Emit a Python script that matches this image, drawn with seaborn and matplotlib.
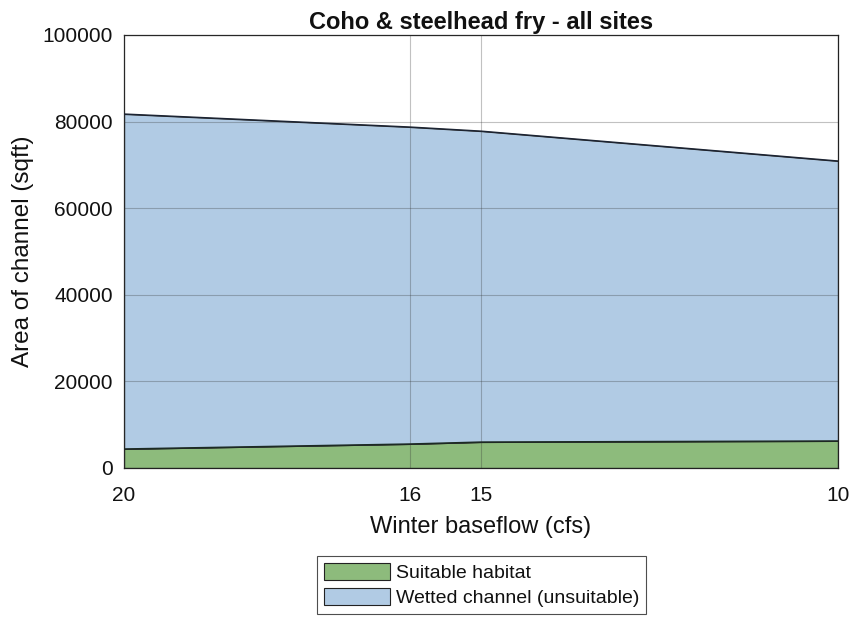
import numpy as np
import pandas as pd
import seaborn as sns
import matplotlib.pyplot as plt

# winter baseflow (cfs) and channel areas (sqft)
flow = [20, 16, 15, 10]
suitable = [4400, 5550, 6000, 6250]
wetted_total = [81750, 78750, 77800, 70900]

df = pd.DataFrame({'flow': flow, 'suitable': suitable, 'total': wetted_total})

sns.set_style("white", {'text.color': '#111111', 'axes.labelcolor': '#111111',
                        'xtick.color': '#111111', 'ytick.color': '#111111'})
plt.rcParams['font.family'] = ['Liberation Sans', 'DejaVu Sans']

fig = plt.figure(figsize=(8.53, 6.17), dpi=100)
ax = fig.add_axes([0.1454, 0.2415, 0.837, 0.7018])

green = '#8dbb7c'
blue = '#b1cbe4'

ax.fill_between(df['flow'], 0, df['suitable'], color=green, zorder=1,
                label='Suitable habitat')
ax.fill_between(df['flow'], df['suitable'], df['total'], color=blue, zorder=1,
                label='Wetted channel (unsuitable)')
sns.lineplot(data=df, x='flow', y='suitable', color='#1c2b24', lw=1, ax=ax,
             zorder=3, legend=False)
sns.lineplot(data=df, x='flow', y='total', color='#1c2433', lw=1, ax=ax,
             zorder=3, legend=False)
if ax.get_legend() is not None:
    ax.get_legend().remove()

ax.set_xlim(20, 10)
ax.set_ylim(0, 100000)
ax.set_xticks([20, 16, 15, 10])
ax.set_yticks([0, 20000, 40000, 60000, 80000, 100000])
ax.tick_params(labelsize=15, length=0)
ax.tick_params(axis='x', pad=13)
ax.tick_params(axis='y', pad=8)
ax.grid(True, color='#333333', lw=0.8, alpha=0.3, zorder=2)
ax.set_axisbelow(False)
for s in ax.spines.values():
    s.set_color('#222222')
    s.set_linewidth(0.9)

ax.set_xlabel('Winter baseflow (cfs)', fontsize=17, labelpad=8)
ax.set_ylabel('Area of channel (sqft)', fontsize=17.5, labelpad=6)
ax.set_title('Coho & steelhead fry - all sites', fontsize=17, fontweight='bold', pad=4)

h, l = ax.get_legend_handles_labels()
for p in h:
    p.set_edgecolor('#222222')
    p.set_linewidth(0.8)
leg = fig.legend(h, l, loc='center', bbox_to_anchor=(0.5645, 0.052), fontsize=14,
                 frameon=True, fancybox=False, edgecolor='#222222',
                 handlelength=3.4, handleheight=1.0, borderpad=0.35,
                 labelspacing=0.3, handletextpad=0.3)
leg.get_frame().set_linewidth(0.8)

fig.savefig('out.png', dpi=100)
